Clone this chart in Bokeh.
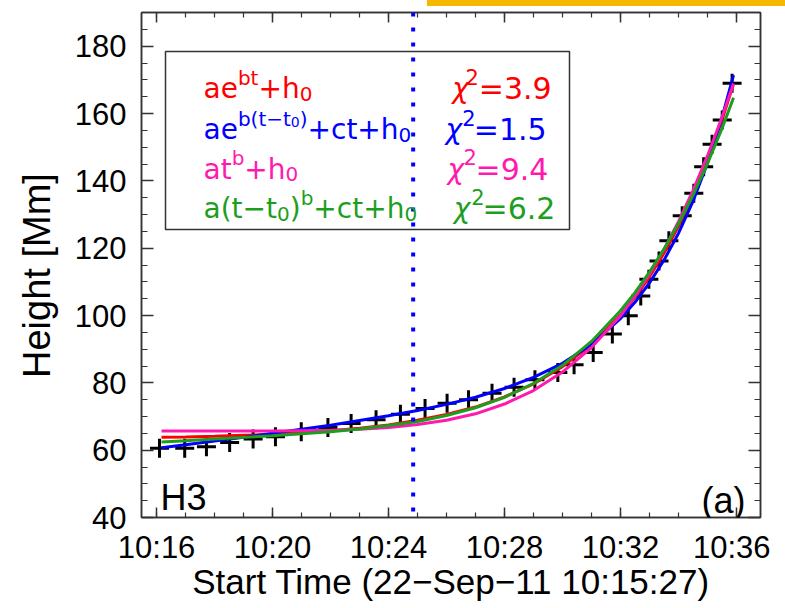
from bokeh.plotting import figure
from bokeh.models import (Range1d, LinearAxis, SingleIntervalTicker, CustomJSTickFormatter,
                          Span, Label, BoxAnnotation, Div)
from bokeh.layouts import column
from bokeh.embed import file_html
from bokeh.resources import INLINE

# ---------------- data (minutes after 10:00 UT, height in Mm) ----------------
obs_time = [16.10, 16.97, 17.72, 18.52, 19.33, 20.10, 20.99, 21.91, 22.71, 23.57,
            24.41, 25.26, 26.02, 26.76, 27.57, 28.33, 29.05, 29.84, 30.40, 31.06,
            31.72, 32.27, 32.70, 32.98, 33.33, 33.67, 34.13, 34.53, 34.87, 35.16,
            35.51, 35.85]
obs_height = [60.6, 60.6, 61.0, 62.3, 63.3, 64.0, 65.5, 66.7, 67.9, 69.0,
              70.7, 72.4, 73.9, 75.0, 76.9, 78.7, 80.9, 83.1, 85.4, 89.0,
              94.5, 99.9, 105.8, 110.8, 116.2, 122.2, 129.6, 136.3, 144.2, 150.9,
              158.1, 169.0]

fit_time = [16.17, 17, 18, 19, 20, 21, 22, 23, 24, 25, 26, 27, 28, 29, 30, 31, 32,
            32.5, 33, 33.5, 34, 34.5, 35, 35.5, 35.9]
fit_exp = [63.8, 63.9, 64.1, 64.4, 64.7, 65.2, 65.8, 66.5, 67.5, 68.9, 70.6, 72.8, 75.8,
           79.7, 84.8, 91.4, 100.1, 105.4, 111.5, 118.5, 126.5, 135.6, 146.1, 158.0, 168.8]
fit_exp_lin = [60.7, 61.6, 62.7, 63.8, 65.0, 66.2, 67.4, 68.8, 70.2, 71.8, 73.6, 75.7, 78.3,
               81.6, 85.8, 91.4, 99.1, 103.9, 109.7, 116.4, 124.4, 133.9, 145.2, 158.7, 171.4]
fit_pow = [65.7, 65.7, 65.7, 65.7, 65.7, 65.8, 65.9, 66.2, 66.7, 67.6, 68.9, 70.8, 73.7,
           77.7, 83.2, 90.5, 99.9, 105.8, 112.3, 119.6, 127.9, 137.1, 147.4, 158.8, 168.9]
fit_pow_lin = [62.4, 62.8, 63.3, 63.8, 64.3, 64.9, 65.5, 66.3, 67.3, 68.5, 70.3, 72.6, 75.7,
               79.8, 85.2, 92.3, 101.4, 106.8, 112.9, 119.7, 127.3, 135.7, 145.1, 155.5, 164.7]

chi2 = [3.9, 1.5, 9.4, 6.2]
fit_colors = ["#FF0000", "#0000FF", "#FF1AAE", "#1E9E1E"]
t_marker = 24.85          # 10:24:51
x_start, x_end = 15.48, 36.83
y_start, y_end = 40, 190

# ---------------- figure ----------------
FW, FH = 619, 505
BL, BT = 141, 12
p = figure(frame_width=FW, frame_height=FH, x_range=Range1d(x_start, x_end),
           y_range=Range1d(y_start, y_end), output_backend="svg", toolbar_location=None,
           min_border_left=BL, min_border_top=BT, min_border_right=10, min_border_bottom=3,
           background_fill_color="white", border_fill_color="white")
p.xgrid.visible = False
p.ygrid.visible = False
p.outline_line_color = "#333333"
p.outline_line_width = 1.5

AX = "#333333"
TICKFONT = "Liberation Sans"

xa = p.xaxis[0]
xa.ticker = SingleIntervalTicker(interval=4, num_minor_ticks=4)
xa.formatter = CustomJSTickFormatter(code="const m = Math.round(tick); return '10:' + (m < 10 ? '0' : '') + m;")
ya = p.yaxis[0]
ya.ticker = SingleIntervalTicker(interval=20, num_minor_ticks=4)

for ax, maj, mnr in ((xa, 10, 5), (ya, 12, 6)):
    ax.axis_line_color = AX
    ax.axis_line_width = 1.5
    ax.major_tick_line_color = AX
    ax.minor_tick_line_color = AX
    ax.major_tick_line_width = 1.5
    ax.minor_tick_line_width = 1.2
    ax.major_tick_in = maj
    ax.major_tick_out = 0
    ax.minor_tick_in = mnr
    ax.minor_tick_out = 0
    ax.major_label_text_font = TICKFONT
    ax.major_label_text_font_size = "31px"
    ax.major_label_text_color = "black"
    ax.axis_label_text_font = TICKFONT
    ax.axis_label_text_font_style = "normal"
    ax.axis_label_text_color = "black"

xa.major_label_standoff = 12
xa.axis_label = "Start Time (22\u2212Sep\u221211 10:15:27)"
xa.axis_label_text_font_size = "35px"
xa.axis_label_standoff = -6
ya.major_label_standoff = 15
ya.axis_label = "Height [Mm]\u00a0\u00a0"
ya.axis_label_text_font_size = "38px"
ya.axis_label_standoff = 14

# mirrored axes (ticks only, no labels)
for loc, interval, maj, mnr in (("above", 4, 10, 5), ("right", 20, 12, 6)):
    ax = LinearAxis(ticker=SingleIntervalTicker(interval=interval, num_minor_ticks=4),
                    formatter=CustomJSTickFormatter(code="return '';"),
                    major_label_text_font_size="1px", major_label_standoff=0,
                    major_tick_in=maj, major_tick_out=0, minor_tick_in=mnr, minor_tick_out=0,
                    axis_line_color=AX, axis_line_width=1.5,
                    major_tick_line_color=AX, minor_tick_line_color=AX,
                    major_tick_line_width=1.5, minor_tick_line_width=1.2)
    p.add_layout(ax, loc)

# observations
p.scatter(obs_time, obs_height, marker="cross", size=19, line_color="black", line_width=3)

# fits
p.line(fit_time, fit_exp, line_color=fit_colors[0], line_width=3)
p.line(fit_time, fit_exp_lin, line_color=fit_colors[1], line_width=3)
p.line(fit_time, fit_pow, line_color=fit_colors[2], line_width=3)
p.line(fit_time, fit_pow_lin, line_color=fit_colors[3], line_width=3)

# marker time
p.add_layout(Span(location=t_marker, dimension="height", line_color="#0000FF",
                  line_width=4, line_dash="4 11"))

# ---------------- annotations (positions given in page pixels) ----------------
FL, FT = BL, BT


def xd(px):
    return x_start + (px - FL) * (x_end - x_start) / FW


def yd(py):
    return y_end - (py - FT) * (y_end - y_start) / FH


p.add_layout(BoxAnnotation(left=xd(165), right=xd(569), top=yd(51), bottom=yd(229),
                           fill_color=None, fill_alpha=0, line_color="#333333",
                           line_alpha=1.0, line_width=1.5))

W = {'a': .613, 'e': .615, 'b': .635, 't': .392, '+': .838, 'h': .634, 'c': .550,
     '(': .390, ')': .390, '\u2212': .838, '0': .636}


def tw(s, size):
    return sum(W.get(ch, .636) for ch in s) * size


KIND = {"n": (28, 0), "sup": (20, -11), "sub": (20, 5), "subsup": (14, -8)}
LFONT = "DejaVu Sans"


def put(px, py, txt, size, color, font=LFONT, style="normal", align="left"):
    p.add_layout(Label(x=xd(px), y=yd(py), text=txt, text_font=font,
                       text_font_size=f"{size}px", text_color=color, text_font_style=style,
                       text_baseline="alphabetic", text_align=align))


rows = [
    (88, [("ae", "n"), ("bt", "sup"), ("+h", "n"), ("0", "sub")], (451.7, 465, 478.3)),
    (129, [("ae", "n"), ("b(t\u2212t", "sup"), ("0", "subsup"), (")", "sup"), ("+ct+h", "n"),
           ("0", "sub")], (445, 461.7, 473.3)),
    (168.5, [("at", "n"), ("b", "sup"), ("+h", "n"), ("0", "sub")], (447, 463, 475)),
    (208, [("a(t\u2212t", "n"), ("0", "sub"), (")", "n"), ("b", "sup"), ("+ct+h", "n"),
           ("0", "sub")], (453.3, 470.7, 482)),
]
for i, (base_y, parts, (cx, sx, ex)) in enumerate(rows):
    col = fit_colors[i]
    x = 203
    for txt, kind in parts:
        size, dy = KIND[kind]
        put(x, base_y + dy, txt, size, col)
        x += tw(txt, size)
    put(cx, base_y, "\u03c7", 28, col, style="italic")
    put(sx, base_y - 12, "2", 21, col)
    put(ex, base_y, f"={chi2[i]:.1f}", 30, col)

put(160, 497, "H3", 36, "black", font=TICKFONT)
put(745, 500, "(a)", 36, "black", font=TICKFONT, align="right")

bar = Div(text='<div style="position:fixed;left:427px;top:0px;width:358px;height:6px;'
               'background:#F5B800;"></div>', width=10, height=1)

layout = column(p, bar)
open("out.html", "w").write(file_html(layout, INLINE))
